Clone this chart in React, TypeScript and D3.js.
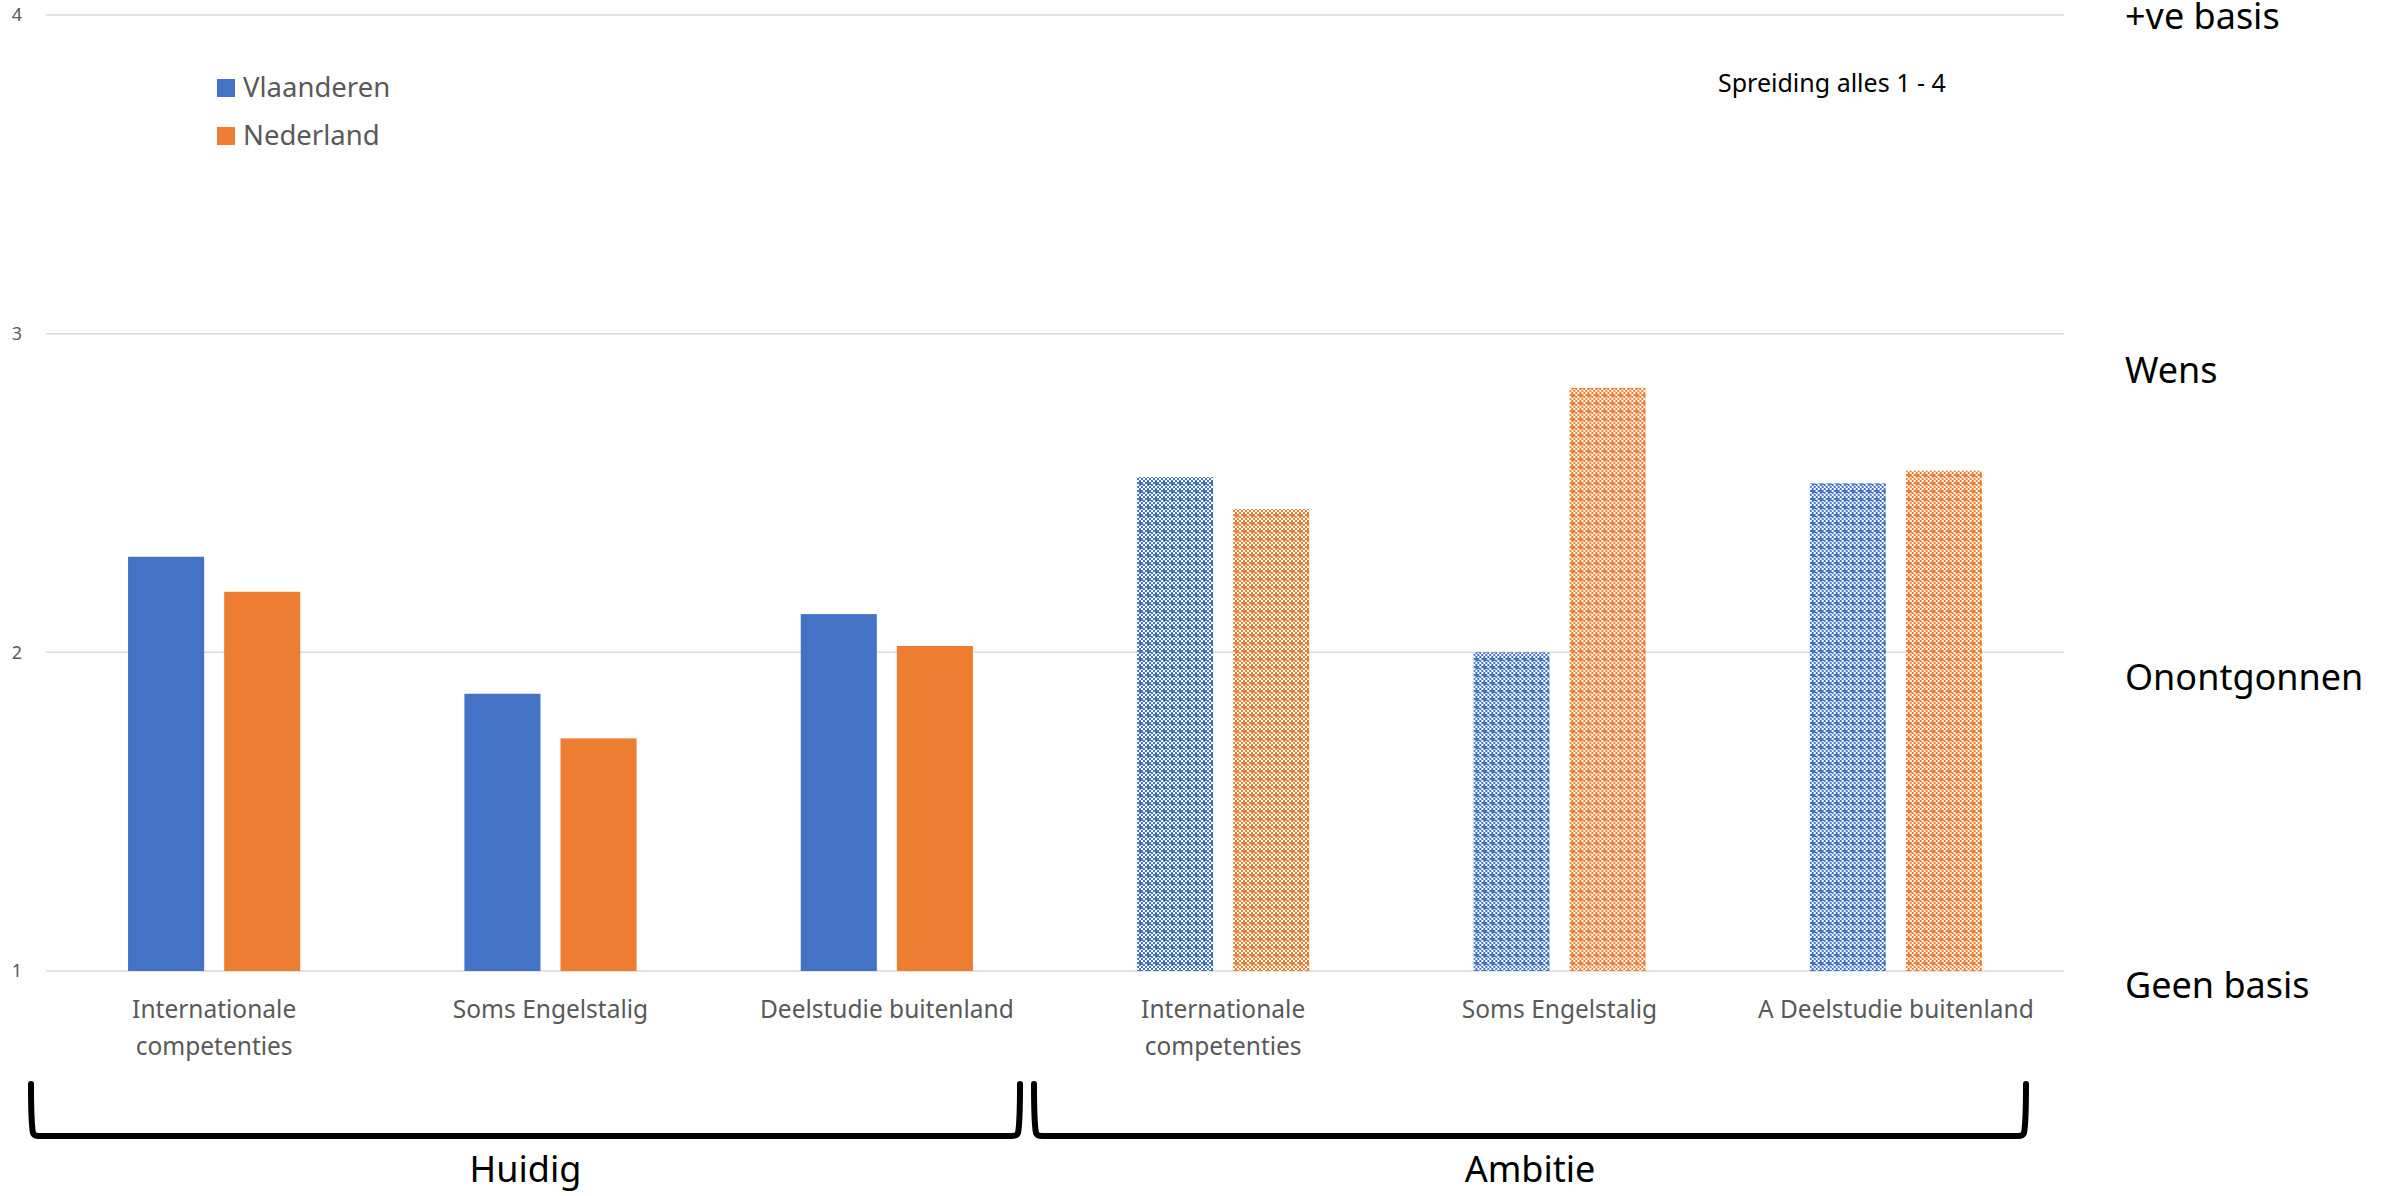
import React from "react";
import * as d3 from "d3";

const categories = [
  "Internationale competenties",
  "Soms Engelstalig",
  "Deelstudie buitenland",
  "Internationale competenties",
  "Soms Engelstalig",
  "A Deelstudie buitenland",
];
const phases = ["Huidig", "Huidig", "Huidig", "Ambitie", "Ambitie", "Ambitie"];
const vlaanderen = [2.3, 1.87, 2.12, 2.55, 2.0, 2.53];
const nederland = [2.19, 1.73, 2.02, 2.45, 2.83, 2.57];
const seriesNames = ["Vlaanderen", "Nederland"];
const yTicks = [1, 2, 3, 4];
const levelLabels = ["Geen basis", "Onontgonnen", "Wens", "+ve basis"];
const groupLabels = ["Huidig", "Ambitie"];
const note = "Spreiding alles 1 - 4";

const W = 2387;
const H = 1196;
const COLORS = ["#4472C4", "#ED7D31"];
const FONT = "'Noto Sans', 'Open Sans', sans-serif";

let canvasCtx: CanvasRenderingContext2D | null = null;
function measure(text: string, size: number) {
  if (!canvasCtx) {
    const c = document.createElement("canvas");
    canvasCtx = c.getContext("2d");
  }
  if (!canvasCtx) return text.length * size * 0.55;
  canvasCtx.font = `${size}px 'Noto Sans'`;
  return canvasCtx.measureText(text).width;
}
function wrap(text: string, size: number, maxW: number) {
  const words = text.split(" ");
  const lines: string[] = [];
  let cur = "";
  for (const w of words) {
    const t = cur ? cur + " " + w : w;
    if (measure(t, size) > maxW && cur) {
      lines.push(cur);
      cur = w;
    } else cur = t;
  }
  if (cur) lines.push(cur);
  return lines;
}

export default function App() {
  const plotL = 46;
  const plotR = 2064;
  const y = d3.scaleLinear().domain([1, 4]).range([971, 15]);
  const x0 = d3
    .scaleBand<number>()
    .domain(d3.range(categories.length))
    .range([plotL, plotR])
    .paddingInner(0)
    .paddingOuter(0);
  const bw = x0.bandwidth();
  const x1 = d3
    .scaleBand<number>()
    .domain([0, 1])
    .range([0, bw])
    .paddingInner(0.2083)
    .paddingOuter(0.854);

  const values = [vlaanderen, nederland];

  const groups = groupLabels.map((g) => {
    const idx = phases.map((p, i) => (p === g ? i : -1)).filter((i) => i >= 0);
    const first = x0(idx[0])!;
    const last = x0(idx[idx.length - 1])! + bw;
    return { g, first, last };
  });
  const bracketTop = 1084;
  const bracketBot = 1136;

  const bracketPath = (a: number, b: number) => {
    const r = 8;
    return `M${a},${bracketTop} C${a},${bracketTop + 20} ${a + 1},${bracketBot - r} ${a + 2},${bracketBot - 3} Q${a + 3},${bracketBot} ${a + r},${bracketBot} L${b - r},${bracketBot} Q${b - 3},${bracketBot} ${b - 2},${bracketBot - 3} C${b - 1},${bracketBot - r} ${b},${bracketTop + 20} ${b},${bracketTop}`;
  };

  const levelBaselines = [998, 690, 383, 29];

  return (
    <svg
      width={W}
      height={H}
      style={{ position: "fixed", left: 0, top: 0, background: "#fff" }}
      fontFamily={FONT}
    >
      <defs>
        {COLORS.map((c, i) => (
          <pattern
            key={i}
            id={`pat${i}`}
            patternUnits="userSpaceOnUse"
            width={8}
            height={8}
          >
            <rect width={8} height={8} fill="#fff" />
            <rect x={0} y={0} width={2} height={2} fill={c} />
            <rect x={4} y={0} width={2} height={2} fill={c} />
            <rect x={2} y={2} width={6} height={2} fill={c} />
            <rect x={4} y={0} width={2} height={6} fill={c} />
            <rect x={0} y={4} width={2} height={2} fill={c} />
            <rect x={2} y={6} width={2} height={2} fill={c} />
            <rect x={6} y={6} width={2} height={2} fill={c} />
            <rect x={6} y={4} width={2} height={1} fill={c} />
          </pattern>
        ))}
      </defs>

      {yTicks.map((t) => (
        <g key={t}>
          <line
            x1={plotL}
            x2={plotR}
            y1={y(t)}
            y2={y(t)}
            stroke="#d9d9d9"
            strokeWidth={1.5}
          />
          <text
            x={22}
            y={y(t)}
            dy="0.35em"
            textAnchor="end"
            fontSize={18}
            fill="#595959"
          >
            {t}
          </text>
        </g>
      ))}

      {categories.map((c, i) => (
        <g key={i} transform={`translate(${x0(i)},0)`}>
          {values.map((vals, s) => (
            <rect
              key={s}
              x={x1(s)}
              y={y(vals[i])}
              width={x1.bandwidth()}
              height={y(1) - y(vals[i])}
              fill={phases[i] === "Ambitie" ? `url(#pat${s})` : COLORS[s]}
            />
          ))}
        </g>
      ))}

      {categories.map((c, i) => {
        const lines = wrap(c, 24.5, 300);
        return (
          <text
            key={i}
            x={x0(i)! + bw / 2}
            y={1018}
            textAnchor="middle"
            fontSize={24.5}
            fill="#595959"
          >
            {lines.map((l, k) => (
              <tspan key={k} x={x0(i)! + bw / 2} dy={k === 0 ? 0 : 36.5}>
                {l}
              </tspan>
            ))}
          </text>
        );
      })}

      {seriesNames.map((n, s) => (
        <g key={n} transform={`translate(217,${79 + s * 48})`}>
          <rect width={18} height={18} fill={COLORS[s]} />
          <text x={26} y={18} fontSize={27.5} fill="#595959">
            {n}
          </text>
        </g>
      ))}

      <text x={1718} y={92} fontSize={25} fill="#000">
        {note}
      </text>

      {levelLabels.map((l, i) => (
        <text key={l} x={2125} y={levelBaselines[i]} fontSize={36} fill="#000">
          {l}
        </text>
      ))}

      {groups.map((g, i) => {
        const a = i === 0 ? g.first - 15 : g.first - 21;
        const b = i === 0 ? g.last - 35 : g.last - 38;
        return (
          <g key={g.g}>
            <path
              d={bracketPath(a, b)}
              fill="none"
              stroke="#000"
              strokeWidth={6}
              strokeLinecap="round"
              strokeLinejoin="round"
            />
            <text
              x={(a + b) / 2}
              y={1182}
              textAnchor="middle"
              fontSize={36}
              fill="#000"
            >
              {g.g}
            </text>
          </g>
        );
      })}
    </svg>
  );
}
